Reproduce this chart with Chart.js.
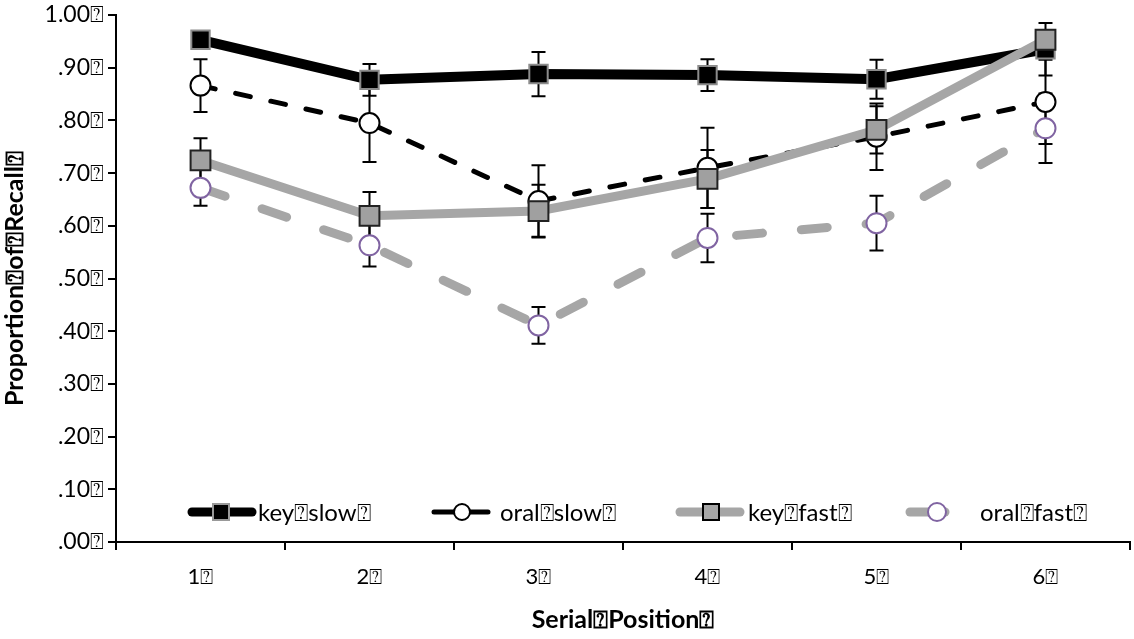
<!DOCTYPE html>
<html><head><meta charset="utf-8">
<script src="https://cdn.jsdelivr.net/npm/chart.js@4/dist/chart.umd.min.js"></script>
<style>html,body{margin:0;padding:0;background:#fff}#wrap{width:1134px;height:639px;position:relative}</style>
</head><body><div id="wrap"><canvas id="c"></canvas></div>
<script>
const Q = '\u2370';
const categories = ['1', '2', '3', '4', '5', '6'];
const yTickLabels = ['.00', '.10', '.20', '.30', '.40', '.50', '.60', '.70', '.80', '.90', '1.00'];
const seriesNames = ['key slow', 'oral slow', 'key fast', 'oral fast'];
const keySlow     = [0.953, 0.877, 0.888, 0.886, 0.878, 0.935];
const keySlowErr  = [0.012, 0.030, 0.042, 0.030, 0.037, 0.050];
const oralSlow    = [0.866, 0.795, 0.647, 0.710, 0.769, 0.835];
const oralSlowErr = [0.050, 0.074, 0.068, 0.076, 0.063, 0.080];
const keyFast     = [0.724, 0.619, 0.628, 0.689, 0.782, 0.953];
const keyFastErr  = [0.042, 0.045, 0.050, 0.055, 0.045, 0.012];
const oralFast    = [0.672, 0.563, 0.411, 0.577, 0.605, 0.785];
const oralFastErr = [0.034, 0.040, 0.035, 0.046, 0.052, 0.066];
const xTitle = 'Serial Position';
const yTitle = 'Proportion of Recall';

const tofu = s => s.split(' ').join(Q) + Q;
const FONT = 'Lato, "Open Sans", sans-serif';
const GRAY = '#a6a6a6';
const PURPLE = '#8064a2';

const errSets = [[keySlow, keySlowErr], [oralSlow, oralSlowErr], [keyFast, keyFastErr], [oralFast, oralFastErr]];

const errPlugin = {
  id: 'errbars',
  beforeDatasetsDraw(chart) {
    const ctx = chart.ctx, xs = chart.scales.x, ys = chart.scales.y;
    ctx.save();
    ctx.strokeStyle = '#000';
    ctx.lineWidth = 2;
    errSets.forEach(([vals, errs]) => {
      vals.forEach((v, i) => {
        const px = xs.getPixelForValue(i);
        const t = ys.getPixelForValue(v + errs[i]);
        const b = ys.getPixelForValue(v - errs[i]);
        ctx.beginPath();
        ctx.moveTo(px, t); ctx.lineTo(px, b);
        ctx.moveTo(px - 7, t); ctx.lineTo(px + 7, t);
        ctx.moveTo(px - 7, b); ctx.lineTo(px + 7, b);
        ctx.stroke();
      });
    });
    ctx.restore();
  }
};

const legendPlugin = {
  id: 'customLegend',
  afterDraw(chart) {
    const ctx = chart.ctx;
    const y = 512;
    ctx.save();
    ctx.font = '24px ' + FONT;
    ctx.fillStyle = '#000';
    ctx.textBaseline = 'middle';
    ctx.lineCap = 'round';
    // key slow
    ctx.strokeStyle = '#000'; ctx.lineWidth = 9;
    ctx.beginPath(); ctx.moveTo(192, y); ctx.lineTo(252, y); ctx.stroke();
    ctx.fillStyle = '#000'; ctx.fillRect(213, y - 8, 16, 16);
    ctx.strokeStyle = '#999'; ctx.lineWidth = 2; ctx.strokeRect(213, y - 8, 16, 16);
    ctx.fillStyle = '#000'; ctx.fillText(tofu(seriesNames[0]), 258, y + 1);
    // oral slow
    ctx.strokeStyle = '#000'; ctx.lineWidth = 5;
    ctx.beginPath(); ctx.moveTo(434, y); ctx.lineTo(488, y); ctx.stroke();
    ctx.beginPath(); ctx.arc(462, y, 8, 0, Math.PI * 2); ctx.fillStyle = '#fff'; ctx.fill();
    ctx.lineWidth = 2; ctx.stroke();
    ctx.fillStyle = '#000'; ctx.fillText(tofu(seriesNames[1]), 500, y + 1);
    // key fast
    ctx.strokeStyle = GRAY; ctx.lineWidth = 9;
    ctx.beginPath(); ctx.moveTo(680, y); ctx.lineTo(740, y); ctx.stroke();
    ctx.fillStyle = GRAY; ctx.fillRect(703, y - 8, 16, 16);
    ctx.strokeStyle = '#000'; ctx.lineWidth = 2; ctx.strokeRect(703, y - 8, 16, 16);
    ctx.fillStyle = '#000'; ctx.fillText(tofu(seriesNames[2]), 748, y + 1);
    // oral fast
    ctx.strokeStyle = GRAY; ctx.lineWidth = 9;
    ctx.beginPath(); ctx.moveTo(910, y); ctx.lineTo(945, y); ctx.stroke();
    ctx.beginPath(); ctx.arc(937, y, 9, 0, Math.PI * 2); ctx.fillStyle = '#fff'; ctx.fill();
    ctx.strokeStyle = PURPLE; ctx.lineWidth = 2; ctx.stroke();
    ctx.fillStyle = '#000'; ctx.fillText(tofu(seriesNames[3]), 980, y + 1);
    ctx.restore();
  }
};

new Chart(document.getElementById('c'), {
  type: 'line',
  data: {
    labels: categories.map(c => c + Q),
    datasets: [
      { label: seriesNames[0], data: keySlow, order: 4, borderColor: '#000', borderWidth: 10,
        pointStyle: 'rect', pointRadius: 13, pointHoverRadius: 13, pointBackgroundColor: '#000',
        pointBorderColor: '#8c8c8c', pointBorderWidth: 2, tension: 0 },
      { label: seriesNames[1], data: oralSlow, order: 3, borderColor: '#000', borderWidth: 5,
        borderDash: [15, 21], borderCapStyle: 'round',
        pointStyle: 'circle', pointRadius: 10, pointHoverRadius: 10, pointBackgroundColor: '#fff',
        pointBorderColor: '#000', pointBorderWidth: 2, tension: 0 },
      { label: seriesNames[2], data: keyFast, order: 2, borderColor: GRAY, borderWidth: 9,
        pointStyle: 'rect', pointRadius: 14, pointHoverRadius: 14, pointBackgroundColor: '#a0a0a0',
        pointBorderColor: '#222', pointBorderWidth: 2, tension: 0 },
      { label: seriesNames[3], data: oralFast, order: 1, borderColor: GRAY, borderWidth: 9,
        borderDash: [26, 39], borderCapStyle: 'round',
        pointStyle: 'circle', pointRadius: 10, pointHoverRadius: 10, pointBackgroundColor: '#fff',
        pointBorderColor: PURPLE, pointBorderWidth: 2, tension: 0 }
    ]
  },
  options: {
    responsive: true, maintainAspectRatio: false, animation: false,
    layout: { autoPadding: false, padding: { top: 15, right: 4, left: 0, bottom: 0 } },
    plugins: { legend: { display: false }, tooltip: { enabled: false } },
    scales: {
      x: {
        type: 'category', offset: true,
        grid: { offset: true, drawOnChartArea: false, drawTicks: true, tickLength: 8, color: '#000', lineWidth: 2 },
        border: { display: true, color: '#000', width: 2 },
        ticks: { color: '#000', font: { family: FONT, size: 22 }, padding: 14, maxRotation: 0 },
        title: { display: true, text: tofu(xTitle), color: '#000', font: { family: FONT, size: 25, weight: 'bold' }, padding: { top: 0, bottom: 4 } },
        afterFit(s) { s.height = 97; s.paddingLeft = 0; s.paddingRight = 0; }
      },
      y: {
        min: 0, max: 1,
        grid: { drawOnChartArea: false, drawTicks: true, tickLength: 8, color: '#000', lineWidth: 2 },
        border: { display: true, color: '#000', width: 2 },
        ticks: { stepSize: 0.1, color: '#000', font: { family: FONT, size: 23 }, padding: 4,
          callback: (v, i) => yTickLabels[i] + Q },
        title: { display: true, text: tofu(yTitle), color: '#000', font: { family: FONT, size: 25, weight: 'bold' }, padding: { top: 0, bottom: 0 } },
        afterFit(s) { s.width = 116; s.paddingTop = 0; s.paddingBottom = 0; }
      }
    }
  },
  plugins: [errPlugin, legendPlugin]
});
</script>
</body></html>
